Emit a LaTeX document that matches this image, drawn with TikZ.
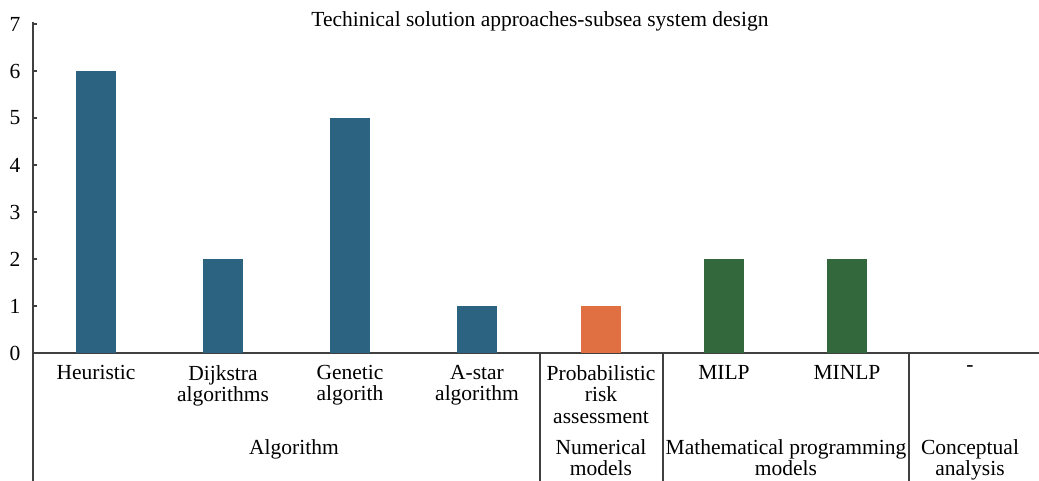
\documentclass[tikz,border=0pt]{standalone}
\usepackage{fontspec}
\setmainfont{Liberation Serif}
\definecolor{barblue}{RGB}{44,99,128}
\definecolor{barorange}{RGB}{224,112,66}
\definecolor{bargreen}{RGB}{51,104,60}
\definecolor{axisgray}{RGB}{64,64,64}
\tikzset{
  axisline/.style={draw=axisgray, line width=1.4pt},
  ticklabel/.style={font=\fontsize{21.5}{21.5}\selectfont, anchor=center},
  catlabel/.style={font=\fontsize{21.5}{21.5}\selectfont, align=center, anchor=north, inner sep=0pt},
  grouplabel/.style={font=\fontsize{21.5}{21.5}\selectfont, align=center, anchor=north, inner sep=0pt}
}
\begin{document}
\begin{tikzpicture}[x=1pt, y=-1pt]
  \useasboundingbox (0,0) rectangle (1039,481);

  % axes
  \draw[axisline] (33,22) -- (33,481);
  \draw[axisline] (33,353) -- (1039,353);
  \foreach \v in {0,...,7} {
    \draw[axisline] (33,353-47*\v) -- (37,353-47*\v);
    \node[ticklabel] (tick\v) at (15,353-47*\v) {\v};
  }

  % title
  \node[font=\fontsize{21.5}{21.5}\selectfont] (title) at (540,21) {Techinical solution approaches-subsea system design};

  % bars
  \foreach \xc/\val/\col in {96/6/barblue, 223/2/barblue, 350/5/barblue, 477/1/barblue,
                             601/1/barorange, 724/2/bargreen, 847/2/bargreen} {
    \fill[\col] (\xc-20,353) rectangle (\xc+20,353-47*\val);
  }

  % group separators
  \draw[axisline] (540,353) -- (540,481);
  \draw[axisline] (663,353) -- (663,481);
  \draw[axisline] (909,353) -- (909,481);

  % category labels
  \node[catlabel] (heur) at (96,365) {Heuristic};
  \node[catlabel] (dijk) at (223,365) {Dijkstra\\algorithms};
  \node[catlabel] (gene) at (350,365) {Genetic\\algorith};
  \node[catlabel] (astar) at (477,365) {A-star\\algorithm};
  \node[catlabel] (prob) at (601,365) {Probabilistic\\risk\\assessment};
  \node[catlabel] (milp) at (724,365) {MILP};
  \node[catlabel] (minlp) at (847,365) {MINLP};
  \node[catlabel] (none) at (970,365) {-};

  % group labels
  \node[grouplabel] (algo) at (294,439) {Algorithm};
  \node[grouplabel] (numer) at (601,439) {Numerical\\models};
  \node[grouplabel] (mathprog) at (786,439) {Mathematical programming\\models};
  \node[grouplabel] (concept) at (970,439) {Conceptual\\analysis};
\end{tikzpicture}
\end{document}
